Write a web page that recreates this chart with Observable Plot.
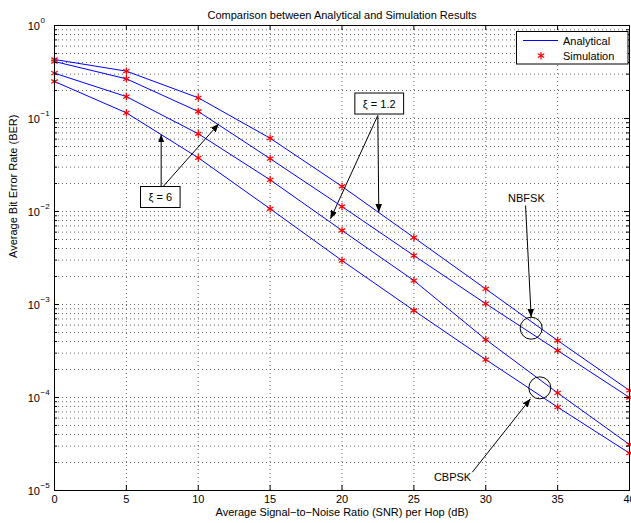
<!DOCTYPE html>
<html><head><meta charset="utf-8">
<script src="https://cdn.jsdelivr.net/npm/d3@7"></script>
<script src="https://cdn.jsdelivr.net/npm/@observablehq/plot@0.6"></script>
<style>
body{margin:0;background:#fff;font-family:"Liberation Sans",Arial,sans-serif;}
#wrap{position:relative;width:631px;height:523px;}
</style></head><body><div id="wrap"></div>
<script>
// ---- data ----
const snr = [0, 5, 10, 15, 20, 25, 30, 35, 40];
const nbfskXi12 = [0.431, 0.323, 0.167, 0.0614, 0.0186, 0.00525, 0.00147, 0.00041, 0.000119];
const nbfskXi6  = [0.410, 0.267, 0.119, 0.0370, 0.0113, 0.00336, 0.00102, 0.00032, 0.000100];
const cbpskXi12 = [0.307, 0.172, 0.0685, 0.0219, 0.00625, 0.00181, 0.00042, 0.000112, 0.0000312];
const cbpskXi6  = [0.250, 0.115, 0.0378, 0.0107, 0.00297, 0.000862, 0.000256, 0.0000787, 0.0000252];
const seriesNames = ["NBFSK ξ=1.2", "NBFSK ξ=6", "CBPSK ξ=1.2", "CBPSK ξ=6"];
const seriesValues = [nbfskXi12, nbfskXi6, cbpskXi12, cbpskXi6];

const xTicks = [0, 5, 10, 15, 20, 25, 30, 35, 40];
const xTickLabels = ["0", "5", "10", "15", "20", "25", "30", "35", "40"];
const yMajor = [1, 0.1, 0.01, 0.001, 0.0001, 0.00001];
const yExpLabels = ["0", "\u22121", "\u22122", "\u22123", "\u22124", "\u22125"];
const yMinor = [];
for (let k = -5; k <= -1; k++) for (let m = 2; m <= 9; m++) yMinor.push(m * Math.pow(10, k));

const title = "Comparison between Analytical and Simulation Results";
const xLabel = "Average Signal\u2212to\u2212Noise Ratio (SNR) per Hop (dB)";
const yLabel = "Average Bit Error Rate (BER)";
const legendLabels = ["Analytical", "Simulation"];

// annotations (data units)
const boxLabels = [
  {x: 7.36, y: 0.01415, text: "ξ = 6"},
  {x: 22.59, y: 0.1432, text: "ξ = 1.2"}
];
const arrows = [
  {x1: 7.42, y1: 0.0186, x2: 7.42, y2: 0.0673},
  {x1: 7.56, y1: 0.0186, x2: 11.43, y2: 0.0877},
  {x1: 22.49, y1: 0.1077, x2: 19.2, y2: 0.00835},
  {x1: 22.49, y1: 0.1077, x2: 22.56, y2: 0.00983},
  {x1: 32.77, y1: 0.0116, x2: 33.16, y2: 0.00073},
  {x1: 29.06, y1: 0.0000157, x2: 33.11, y2: 0.0000968}
];
const circles = [
  {x: 33.16, y: 0.000556},
  {x: 33.76, y: 0.000127}
];
const plainLabels = [
  {x: 32.83, y: 0.0138, text: "NBFSK"},
  {x: 27.69, y: 0.0000138, text: "CBPSK"}
];

// ---- table ----
const rows = [];
seriesNames.forEach((s, i) => snr.forEach((x, j) => rows.push({series: s, snr: x, ber: seriesValues[i][j]})));

const W = 631, H = 523, mL = 54, mR = 2, mT = 25, mB = 33;
const fw = W - mL - mR, fh = H - mT - mB;
const gridStyle = {stroke: "#666", strokeDasharray: "1,3", strokeWidth: 1};

const plot = Plot.plot({
  width: W, height: H,
  marginLeft: mL, marginRight: mR, marginTop: mT, marginBottom: mB,
  style: {fontFamily: "'Liberation Sans', Arial, sans-serif", fontSize: "11px", background: "white", overflow: "visible"},
  x: {domain: [0, 40], axis: null},
  y: {type: "log", domain: [1e-5, 1], axis: null},
  marks: [
    Plot.ruleX(xTicks.slice(1, -1), {x: d => d, ...gridStyle}),
    Plot.ruleY(yMajor.slice(1, -1), {y: d => d, ...gridStyle}),
    Plot.ruleY(yMinor, {y: d => d, ...gridStyle}),
    Plot.line(rows, {x: "snr", y: "ber", z: "series", stroke: "#0000ff", strokeWidth: 1}),
    Plot.dot(rows, {x: "snr", y: "ber", symbol: "asterisk", r: 3.5, stroke: "#ff0000", strokeWidth: 1.2}),
    Plot.frame({stroke: "black", strokeWidth: 1}),
    // inward ticks
    Plot.tickX(xTicks, {x: d => d, insetTop: fh - 5, stroke: "black"}),
    Plot.tickX(xTicks, {x: d => d, insetBottom: fh - 5, stroke: "black"}),
    Plot.tickY(yMajor, {y: d => d, insetRight: fw - 5, stroke: "black"}),
    Plot.tickY(yMajor, {y: d => d, insetLeft: fw - 5, stroke: "black"}),
    Plot.tickY(yMinor, {y: d => d, insetRight: fw - 3, stroke: "black"}),
    Plot.tickY(yMinor, {y: d => d, insetLeft: fw - 3, stroke: "black"}),
    // tick labels
    Plot.text(xTicks, {x: d => d, text: (d, i) => xTickLabels[i], frameAnchor: "bottom", dy: 12, fill: "black"}),
    Plot.text(yMajor, {y: d => d, text: () => "10", frameAnchor: "left", textAnchor: "end", dx: -14.5, dy: 1, fill: "black"}),
    Plot.text(yMajor, {y: d => d, text: (d, i) => yExpLabels[i], frameAnchor: "left", textAnchor: "start", dx: -14, dy: -5, fontSize: 8, fill: "black"}),
    // titles
    Plot.text([title], {text: d => d, frameAnchor: "top", dy: -14, fill: "black"}),
    Plot.text([xLabel], {text: d => d, frameAnchor: "bottom", dy: 25, fill: "black"}),
    Plot.text([yLabel], {text: d => d, frameAnchor: "left", rotate: -90, dx: -41, fill: "black"}),
    // annotations
    Plot.link(arrows, {x1: "x1", y1: "y1", x2: "x2", y2: "y2", stroke: "black", strokeWidth: 1, markerEnd: "arrow"}),
    Plot.dot(circles, {x: "x", y: "y", r: 11, stroke: "black", fill: "none", strokeWidth: 1}),
    Plot.text(plainLabels, {x: "x", y: "y", text: "text", fill: "black"}),
    Plot.text(boxLabels, {x: "x", y: "y", text: "text", fill: "black", ariaDescription: "boxlabel"})
  ]
});

const wrap = document.getElementById("wrap");
wrap.appendChild(plot);

// filled arrowheads
d3.select(plot).selectAll("marker")
  .attr("markerWidth", 16).attr("markerHeight", 16)
  .attr("fill", "black").attr("stroke", "none")
  .select("path").attr("d", "M0,0L-6.5,-2.6L-4.8,0L-6.5,2.6Z");

// boxes around ξ labels
d3.select(plot).selectAll('g[aria-description="boxlabel"] text').each(function() {
  const b = this.getBBox();
  const r = d3.select(this.parentNode).insert("rect", () => this)
    .attr("x", b.x - 8).attr("y", b.y - 4.5)
    .attr("width", b.width + 16).attr("height", b.height + 9)
    .attr("fill", "white").attr("stroke", "black").attr("stroke-width", 1);
  const t = this.getAttribute("transform");
  if (t) r.attr("transform", t);
});

// legend
const leg = d3.select(wrap).append("svg")
  .attr("width", 113).attr("height", 34)
  .style("position", "absolute").style("left", "516px").style("top", "31px")
  .style("font-family", "'Liberation Sans', Arial, sans-serif").style("font-size", "11px");
leg.append("rect").attr("x", 0.5).attr("y", 0.5).attr("width", 111.5).attr("height", 32.5)
  .attr("fill", "white").attr("stroke", "black");
leg.append("line").attr("x1", 7).attr("x2", 42).attr("y1", 9.5).attr("y2", 9.5).attr("stroke", "#0000ff");
leg.append("path").attr("d", d3.symbol(d3.symbolAsterisk, Math.PI * 3.5 * 3.5)())
  .attr("transform", "translate(25,24.7)").attr("stroke", "#ff0000").attr("stroke-width", 1.2).attr("fill", "none");
leg.append("text").attr("x", 47).attr("y", 13.5).text(legendLabels[0]);
leg.append("text").attr("x", 47).attr("y", 29).text(legendLabels[1]);
</script></body></html>
